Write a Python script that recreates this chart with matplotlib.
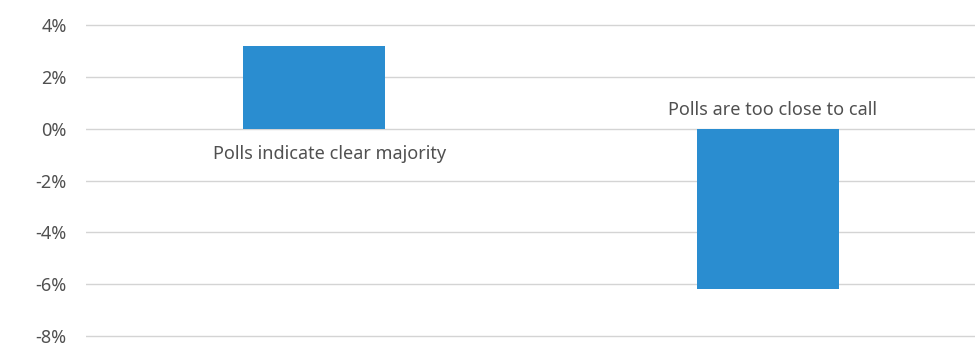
import matplotlib.pyplot as plt
from matplotlib.ticker import FuncFormatter

categories = ['Polls indicate clear majority', 'Polls are too close to call']
values = [3.2, -6.2]
y_ticks = [-8, -6, -4, -2, 0, 2, 4]

bar_color = '#2a8dd0'
text_color = '#505050'
grid_color = '#d4d4d4'

plt.rcParams['font.family'] = ['Noto Sans', 'DejaVu Sans']

# axes frame in pixels; a small margin keeps the outer gridlines visible
ppu = (336 - 25.5) / 12
top_px = 25.5 - 0.1 * ppu
bot_px = 336 + 0.1 * ppu
fig = plt.figure(figsize=(9.75, 3.45), dpi=100)
ax = fig.add_axes([86 / 975, 1 - bot_px / 345, 889 / 975, (bot_px - top_px) / 345])

x = list(range(len(categories)))
ax.bar(x, values, width=0.312, color=bar_color, zorder=3)

# category names sit just outside the zero line, on the side away from the bar
for xi, name, val in zip(x, categories, values):
    if val >= 0:
        ax.text(xi + 0.035, -0.6, name, ha='center', va='top',
                fontsize=13, color=text_color)
    else:
        ax.text(xi + 0.01, 0.4, name, ha='center', va='bottom',
                fontsize=13, color=text_color)

ax.set_ylim(-8.1, 4.1)
ax.set_xlim(-0.502, 1.456)
ax.set_yticks(y_ticks)
ax.yaxis.set_major_formatter(FuncFormatter(lambda v, _: '%d%%' % v))
ax.set_xticks([])
ax.grid(axis='y', color=grid_color, linewidth=1.0, zorder=0)
ax.tick_params(axis='y', length=0, pad=14, labelsize=13, labelcolor=text_color)
for spine in ax.spines.values():
    spine.set_visible(False)

fig.savefig('out.png', dpi=100)
